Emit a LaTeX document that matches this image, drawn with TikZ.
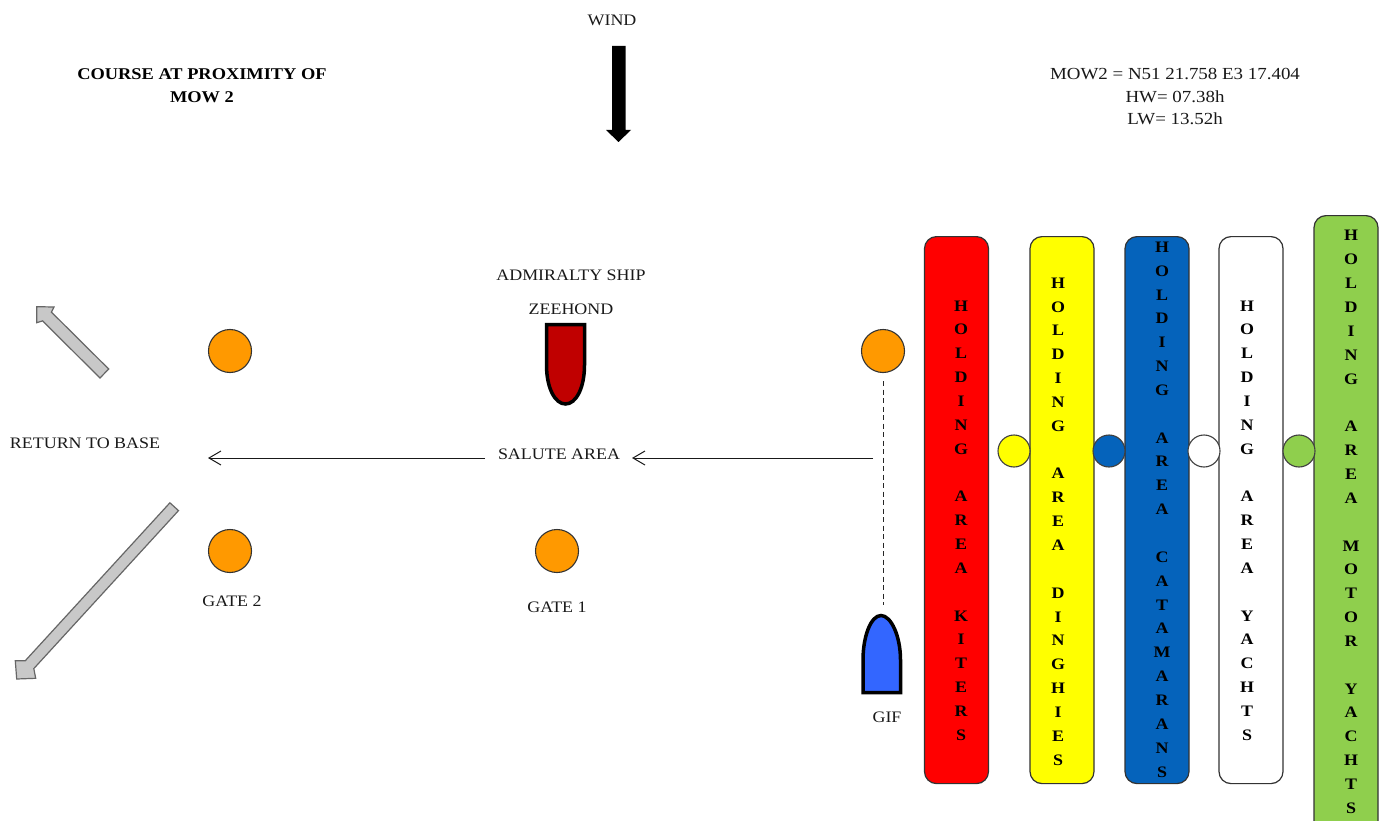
\documentclass[tikz,border=0pt]{standalone}
\usepackage{fontspec}
\setmainfont{Liberation Serif}[FakeStretch=1.12]
\usetikzlibrary{arrows.meta}
\definecolor{cred}{HTML}{FF0000}
\definecolor{cyellow}{HTML}{FFFF00}
\definecolor{cblue}{HTML}{0563BB}
\definecolor{cgreen}{HTML}{8FCF4D}
\definecolor{corange}{HTML}{FF9900}
\definecolor{cgray}{HTML}{C8C8C8}
\definecolor{cship}{HTML}{C00000}
\definecolor{cgif}{HTML}{3366FF}
\tikzset{
  lbl/.style={font=\fontsize{16}{19}\selectfont,inner sep=0pt,text=black!90},
  ttl/.style={font=\bfseries\fontsize{16.4}{23}\selectfont,inner sep=0pt,align=center},
  hold/.style={draw=black!80,line width=1.2pt,rounded corners=12pt,minimum width=64pt,anchor=north,inner sep=0pt},
  stack/.style={inner sep=0pt,align=center,font=\bfseries\fontsize{16}{23.85}\selectfont},
  buoy/.style={circle,draw=black!80,line width=1.1pt,minimum size=43pt,inner sep=0pt,fill=corange},
  dot/.style={circle,draw=black!75,line width=1.1pt,minimum size=32pt,inner sep=0pt},
  flow/.style={draw=black!90,line width=1pt,-{Straight Barb[length=12pt,width=14pt,line width=1pt]}},
  fat/.style={draw=black!60,line width=1.2pt,fill=cgray,line join=miter},
  boat/.style={draw=black,line width=3.5pt,line join=miter}
}
\begin{document}
\begin{tikzpicture}[x=1pt,y=-1pt]
\useasboundingbox (0,0) rectangle (1383,821);
\fill[white] (0,0) rectangle (1383,821);
% texts
\node[lbl] (wind) at (612,20) {WIND};
\node[ttl] (title) at (202,85.5) {COURSE AT PROXIMITY OF\\MOW 2};
\node[lbl,align=center,font=\fontsize{16.9}{22.5}\selectfont] (info) at (1175,97) {MOW2 = N51 21.758 E3 17.404\\HW= 07.38h\\LW= 13.52h};
\node[lbl] (adm) at (571,275) {ADMIRALTY SHIP};
\node[lbl] (zee) at (571,309) {ZEEHOND};
\node[lbl] (salute) at (559,454) {SALUTE AREA};
\node[lbl] (ret) at (85,443) {RETURN TO BASE};
\node[lbl] (g2) at (232,601) {GATE 2};
\node[lbl] (g1) at (557,607) {GATE 1};
\node[lbl] (gif) at (887,717) {GIF};
% wind arrow
\fill[black] (612,46) -- (625.5,46) -- (625.5,130) -- (631,130) -- (618.5,142) -- (606,130) -- (612,130) -- cycle;
% grey arrows
\draw[fat] (108.7,369) -- (100,378) -- (42.6,320.9) -- (36.7,322.7) -- (36.7,306.7) -- (54,307) -- (51.4,312.1) -- cycle;
\draw[fat] (169.9,502.8) -- (178.5,510.6) -- (33.8,668.6) -- (35.7,678.3) -- (16.7,679) -- (15.3,660.7) -- (25.2,660.8) -- cycle;
% buoys
\node[buoy] (b1) at (230,351) {};
\node[buoy] (b2) at (883,351) {};
\node[buoy] (b3) at (230,551) {};
\node[buoy] (b4) at (557,551) {};
% boats
\draw[boat,fill=cship] (546.5,324.5) -- (584.5,324.5) -- (584.5,365) .. controls (584.5,388) and (576,404) .. (565.5,404) .. controls (555,404) and (546.5,388) .. (546.5,365) -- cycle;
\draw[boat,fill=cgif] (863,692.5) -- (900.5,692.5) -- (900.5,660) .. controls (900.5,636) and (891,615.5) .. (881,615.5) .. controls (871,615.5) and (863,636) .. (863,660) -- cycle;
\coordinate (gifTop) at (883,605);
% connectors
\draw[black!85,line width=1pt,dash pattern=on 5pt off 3.5pt] (b2.south) ++(0,8) -- (gifTop);
\coordinate (start) at (873,458);
\coordinate (salR) at (632,458);
\coordinate (salL) at (485,458);
\coordinate (end) at (208,458);
\draw[flow] (start) -- (salR);
\draw[flow] (salL) -- (end);
% holding areas
\node[hold,fill=cred,minimum height=547pt] (kit) at (956.5,236) {};
\node[hold,fill=cyellow,minimum height=547pt] (din) at (1062,236) {};
\node[hold,fill=cblue,minimum height=547pt] (cat) at (1157,236) {};
\node[hold,fill=white,minimum height=547pt] (yac) at (1251,236) {};
\node[hold,fill=cgreen,minimum height=625pt] (mot) at (1346,215) {};
\node[stack] (kitT) at (961,520.5) {H\\O\\L\\D\\I\\N\\G\\~\\A\\R\\E\\A\\~\\K\\I\\T\\E\\R\\S};
\node[stack] (dinT) at (1058,521.5) {H\\O\\L\\D\\I\\N\\G\\~\\A\\R\\E\\A\\~\\D\\I\\N\\G\\H\\I\\E\\S};
\node[stack] (catT) at (1162,509.5) {H\\O\\L\\D\\I\\N\\G\\~\\A\\R\\E\\A\\~\\C\\A\\T\\A\\M\\A\\R\\A\\N\\S};
\node[stack] (yacT) at (1247,520.5) {H\\O\\L\\D\\I\\N\\G\\~\\A\\R\\E\\A\\~\\Y\\A\\C\\H\\T\\S};
\node[stack] (motT) at (1351,522) {H\\O\\L\\D\\I\\N\\G\\~\\A\\R\\E\\A\\~\\M\\O\\T\\O\\R\\~\\Y\\A\\C\\H\\T\\S};
% dots
\node[dot,fill=cyellow] (d1) at (1014,451) {};
\node[dot,fill=cblue] (d2) at (1109,451) {};
\node[dot,fill=white] (d3) at (1204,451) {};
\node[dot,fill=cgreen] (d4) at (1299,451) {};
\end{tikzpicture}
\end{document}
